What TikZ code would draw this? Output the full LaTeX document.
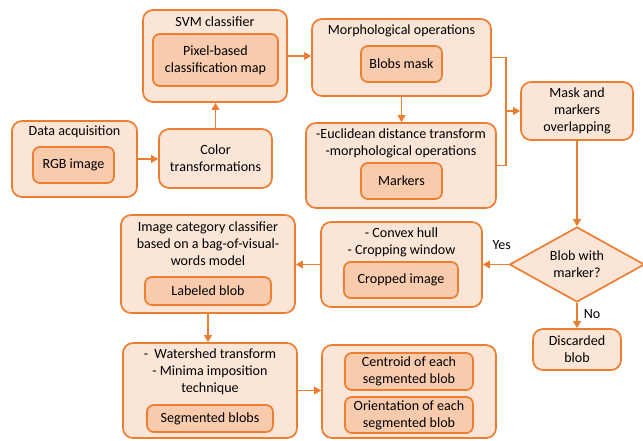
\documentclass[tikz,border=0pt]{standalone}
\usepackage{fontspec}
\setmainfont{Carlito}
\usepackage{tikz}
\usetikzlibrary{shapes.geometric, arrows.meta}
\definecolor{boxline}{HTML}{ED7D31}
\definecolor{boxfill}{HTML}{FBE5D6}
\definecolor{innerfill}{HTML}{F8CBAD}
\tikzset{
    outerbox/.style = {
        draw            = boxline,
        fill            = boxfill,
        line width      = 1.2pt,
        rounded corners = 0.25cm,
        inner sep       = 0pt,
    },
    innerbox/.style = {
        draw            = boxline,
        fill            = innerfill,
        line width      = 1.2pt,
        rounded corners = 0.17cm,
        inner sep       = 0pt,
        align           = center,
    },
    boxtitle/.style = {inner sep = 0pt, align = center},
    flowline/.style = {draw = boxline, line width = 1.2pt},
    flowarrow/.style = {flowline, -{Triangle[length=5pt, width=5.5pt]}},
}

\begin{document}
\begin{tikzpicture}[x=0.025cm, y=-0.025cm, every node/.style = {font = \fontsize{10}{12}\selectfont}]
        \useasboundingbox (0, 0) rectangle (643, 440);

        \node at (74.5, 159) (data) [outerbox, minimum width=3.125cm, minimum height=1.9cm] {};
        \node at (74.5, 132) (data-title) [boxtitle] {Data acquisition};
        \node at (73.5, 165) (rgb) [innerbox, minimum width=2.025cm, minimum height=0.9cm] {RGB image};

        \node at (215.5, 158.5) (color) [outerbox, align=center, minimum width=2.825cm, minimum height=1.475cm] {Color\\transformations};

        \node at (215, 56) (svm) [outerbox, minimum width=3.6cm, minimum height=2.3cm] {};
        \node at (215, 22) (svm-title) [boxtitle] {SVM classifier};
        \node at (215.5, 60) (pixel) [innerbox, minimum width=3.125cm, minimum height=1.3cm] {Pixel-based\\classification map};

        \node at (401.5, 57.5) (morph) [outerbox, minimum width=4.475cm, minimum height=1.925cm] {};
        \node at (401.5, 31) (morph-title) [boxtitle] {Morphological operations};
        \node at (401.5, 64) (blobs) [innerbox, minimum width=2.025cm, minimum height=0.9cm] {Blobs mask};

        \node at (401, 165.5) (euclid) [outerbox, minimum width=4.75cm, minimum height=2.125cm] {};
        \node at (401, 143.5) (euclid-title) [boxtitle] {-Euclidean distance transform\\-morphological operations};
        \node at (401.5, 181) (markers) [innerbox, minimum width=2.025cm, minimum height=0.9cm] {Markers};

        \node at (577, 111) (mask) [outerbox, align=center, minimum width=2.8cm, minimum height=1.45cm] {Mask and\\markers\\overlapping};

        \node at (577, 264.5) (decision) [diamond, shape aspect=1.8, draw=boxline, fill=boxfill, line width=1.2pt, inner sep=0pt, align=center, minimum width=3.375cm, minimum height=1.875cm] {Blob with\\marker?};

        \node at (401.5, 264.5) (crop) [outerbox, minimum width=4.025cm, minimum height=2.125cm] {};
        \node at (401.5, 242) (crop-title) [boxtitle] {- Convex hull\\- Cropping window};
        \node at (401, 280) (cropped) [innerbox, minimum width=2.85cm, minimum height=0.9cm] {Cropped image};

        \node at (577, 349.5) (discard) [outerbox, align=center, minimum width=2.2cm, minimum height=1.025cm] {Discarded\\blob};

        \node at (208, 264) (bovw) [outerbox, minimum width=4.35cm, minimum height=2.45cm] {};
        \node at (208, 244) (bovw-title) [boxtitle] {Image category classifier\\based on a bag-of-visual-\\words model};
        \node at (208, 291) (labeled) [innerbox, minimum width=3.15cm, minimum height=0.7cm] {Labeled blob};

        \node at (210, 390.5) (shed) [outerbox, minimum width=4.35cm, minimum height=2.375cm] {};
        \node at (210, 372) (shed-title) [boxtitle] {-\ \ Watershed transform\\- Minima imposition\\technique};
        \node at (210, 418.5) (segmented) [innerbox, minimum width=3.15cm, minimum height=0.675cm] {Segmented blobs};

        \node at (409, 391.5) (features) [outerbox, minimum width=4.35cm, minimum height=2.325cm] {};
        \node at (409, 371.5) (centroid) [innerbox, minimum width=3.2cm, minimum height=0.925cm] {Centroid of each\\segmented blob};
        \node at (409, 415) (orient) [innerbox, minimum width=3.2cm, minimum height=0.9cm] {Orientation of each\\segmented blob};

        \draw [flowarrow] (data.east) -- (data.east -| color.west);
        \draw [flowarrow] (color.north) -- (color.north |- svm.south);
        \draw [flowarrow] (svm.east) -- (svm.east -| morph.west);
        \draw [flowarrow] (morph.south) -- (morph.south |- euclid.north);

        \coordinate (join) at (506, 111);
        \draw [flowline] (morph.east) -| (join) |- (euclid.east);
        \draw [flowarrow] (join) -- (mask.west);

        \draw [flowarrow] (mask) -- (decision);
        \draw [flowarrow] (decision) -- (crop) node [pos=0.27, above=0.35cm, inner sep=0pt] {Yes};
        \draw [flowarrow] (decision) -- (discard) node [pos=0.45, right=0.15cm, inner sep=0pt] {No};
        \draw [flowarrow] (crop.west) -- (crop.west -| bovw.east);
        \draw [flowarrow] (bovw.south) -- (bovw.south |- shed.north);
        \draw [flowarrow] (shed.east) -- (shed.east -| features.west);

    \end{tikzpicture}
\end{document}
